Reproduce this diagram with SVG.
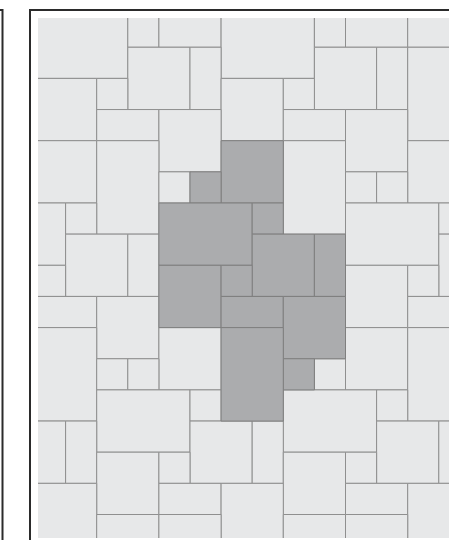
<svg xmlns="http://www.w3.org/2000/svg" width="449" height="540" viewBox="0 0 449 540">
<defs>
<style>
.t{fill:#e7e8e9;stroke:#8f8f8f;stroke-width:1;vector-effect:non-scaling-stroke}
.d{fill:#abacae;stroke:#7f7f7f;stroke-width:1;vector-effect:non-scaling-stroke}
.frame{fill:none;stroke:#2b2b2b;stroke-width:2}
</style>
<clipPath id="clip"><rect x="38" y="18" width="411" height="520"/></clipPath>
</defs>
<rect width="449" height="540" fill="#ffffff"/>
<rect class="frame" x="-100" y="10" width="102.5" height="600"/>
<rect class="frame" x="30" y="10" width="500" height="600"/>
<g id="paving" clip-path="url(#clip)">
<g transform="translate(34.5 16.1) scale(31.1 31.15)">
<g id="light-tiles">
<rect class="t" x="0" y="0" width="3" height="2"/>
<rect class="t" x="3" y="0" width="1" height="1"/>
<rect class="t" x="4" y="0" width="2" height="1"/>
<rect class="t" x="6" y="0" width="3" height="2"/>
<rect class="t" x="9" y="0" width="1" height="1"/>
<rect class="t" x="10" y="0" width="2" height="1"/>
<rect class="t" x="12" y="0" width="2" height="1"/>
<rect class="t" x="3" y="1" width="2" height="2"/>
<rect class="t" x="5" y="1" width="1" height="2"/>
<rect class="t" x="9" y="1" width="2" height="2"/>
<rect class="t" x="11" y="1" width="1" height="2"/>
<rect class="t" x="12" y="1" width="2" height="3"/>
<rect class="t" x="0" y="2" width="2" height="2"/>
<rect class="t" x="2" y="2" width="1" height="1"/>
<rect class="t" x="6" y="2" width="2" height="2"/>
<rect class="t" x="8" y="2" width="1" height="1"/>
<rect class="t" x="2" y="3" width="2" height="1"/>
<rect class="t" x="4" y="3" width="2" height="2"/>
<rect class="t" x="8" y="3" width="2" height="1"/>
<rect class="t" x="10" y="3" width="2" height="2"/>
<rect class="t" x="0" y="4" width="2" height="2"/>
<rect class="t" x="2" y="4" width="2" height="3"/>
<rect class="t" x="8" y="4" width="2" height="3"/>
<rect class="t" x="12" y="4" width="2" height="2"/>
<rect class="t" x="4" y="5" width="1" height="1"/>
<rect class="t" x="10" y="5" width="1" height="1"/>
<rect class="t" x="11" y="5" width="1" height="1"/>
<rect class="t" x="0" y="6" width="1" height="2"/>
<rect class="t" x="1" y="6" width="1" height="1"/>
<rect class="t" x="10" y="6" width="3" height="2"/>
<rect class="t" x="13" y="6" width="1" height="1"/>
<rect class="t" x="1" y="7" width="2" height="2"/>
<rect class="t" x="3" y="7" width="1" height="2"/>
<rect class="t" x="13" y="7" width="1" height="2"/>
<rect class="t" x="0" y="8" width="1" height="1"/>
<rect class="t" x="10" y="8" width="2" height="2"/>
<rect class="t" x="12" y="8" width="1" height="1"/>
<rect class="t" x="0" y="9" width="2" height="1"/>
<rect class="t" x="2" y="9" width="2" height="2"/>
<rect class="t" x="12" y="9" width="2" height="1"/>
<rect class="t" x="0" y="10" width="2" height="3"/>
<rect class="t" x="4" y="10" width="2" height="2"/>
<rect class="t" x="10" y="10" width="2" height="2"/>
<rect class="t" x="12" y="10" width="2" height="3"/>
<rect class="t" x="2" y="11" width="1" height="1"/>
<rect class="t" x="3" y="11" width="1" height="1"/>
<rect class="t" x="9" y="11" width="1" height="1"/>
<rect class="t" x="2" y="12" width="3" height="2"/>
<rect class="t" x="5" y="12" width="1" height="1"/>
<rect class="t" x="8" y="12" width="3" height="2"/>
<rect class="t" x="11" y="12" width="1" height="1"/>
<rect class="t" x="0" y="13" width="1" height="2"/>
<rect class="t" x="1" y="13" width="1" height="2"/>
<rect class="t" x="5" y="13" width="2" height="2"/>
<rect class="t" x="7" y="13" width="1" height="2"/>
<rect class="t" x="11" y="13" width="2" height="2"/>
<rect class="t" x="13" y="13" width="1" height="2"/>
<rect class="t" x="2" y="14" width="2" height="2"/>
<rect class="t" x="4" y="14" width="1" height="1"/>
<rect class="t" x="8" y="14" width="2" height="2"/>
<rect class="t" x="10" y="14" width="1" height="1"/>
<rect class="t" x="0" y="15" width="2" height="2"/>
<rect class="t" x="4" y="15" width="2" height="1"/>
<rect class="t" x="6" y="15" width="2" height="2"/>
<rect class="t" x="10" y="15" width="2" height="1"/>
<rect class="t" x="12" y="15" width="2" height="2"/>
<rect class="t" x="2" y="16" width="2" height="2"/>
<rect class="t" x="4" y="16" width="2" height="2"/>
<rect class="t" x="8" y="16" width="2" height="2"/>
<rect class="t" x="10" y="16" width="2" height="2"/>
</g>
<g id="dark-tiles">
<rect class="d" x="6" y="4" width="2" height="2"/>
<rect class="d" x="5" y="5" width="1" height="1"/>
<rect class="d" x="4" y="6" width="3" height="2"/>
<rect class="d" x="7" y="6" width="1" height="1"/>
<rect class="d" x="7" y="7" width="2" height="2"/>
<rect class="d" x="9" y="7" width="1" height="2"/>
<rect class="d" x="4" y="8" width="2" height="2"/>
<rect class="d" x="6" y="8" width="1" height="1"/>
<rect class="d" x="6" y="9" width="2" height="1"/>
<rect class="d" x="8" y="9" width="2" height="2"/>
<rect class="d" x="8" y="11" width="1" height="1"/>
<rect class="d" x="6" y="10" width="2" height="3"/>
</g>
</g>
</g>
</svg>
